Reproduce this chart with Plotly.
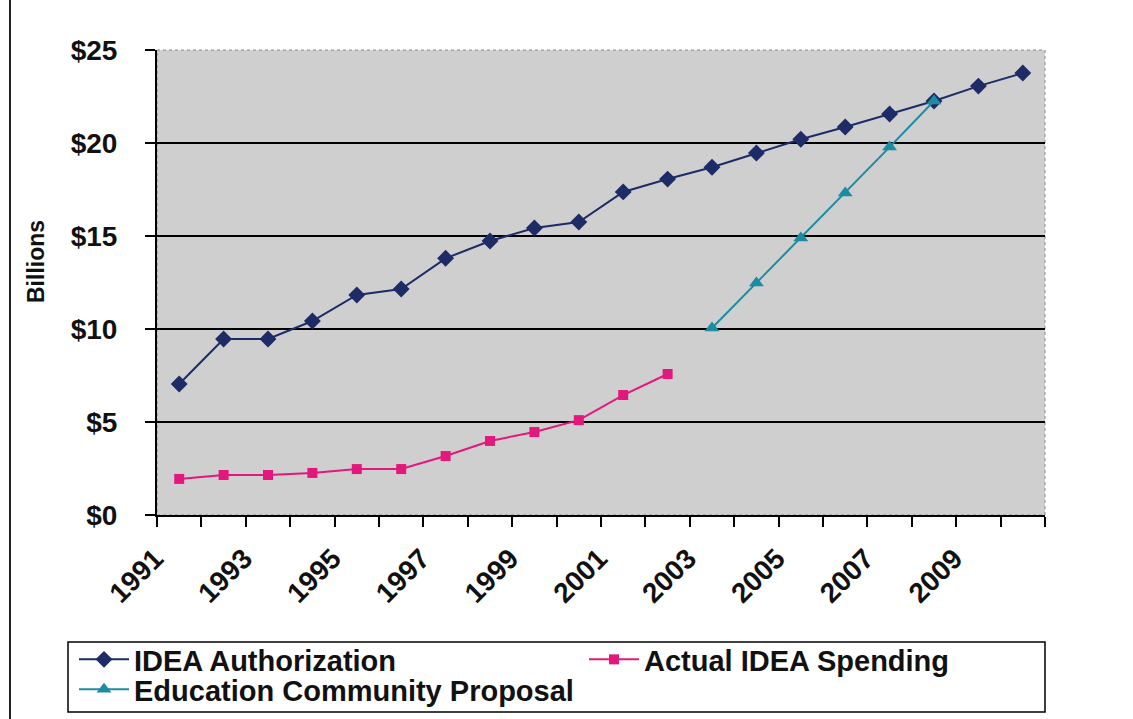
import plotly.graph_objects as go

years = [str(y) for y in range(1991, 2011)]
tick_text = [y if int(y) % 2 == 1 else "" for y in years]
y_ticks = [0, 5, 10, 15, 20, 25]
y_tick_text = ["$0", "$5", "$10", "$15", "$20", "$25"]

idea_auth = [7.04, 9.46, 9.46, 10.43, 11.83, 12.15, 13.8, 14.73, 15.43, 15.75,
             17.37, 18.06, 18.7, 19.46, 20.2, 20.86, 21.56, 22.26, 23.06, 23.76]
spend_years = years[:12]
actual_spend = [1.94, 2.15, 2.15, 2.26, 2.47, 2.47, 3.17, 3.98, 4.46, 5.1, 6.45, 7.58]
prop_years = years[12:18]
proposal = [10.05, 12.47, 14.89, 17.31, 19.78, 22.26]

NAVY = "#1d2b66"
PINK = "#e3187c"
TEAL = "#1c8ca2"
FONT = "Liberation Sans, Arial, sans-serif"

fig = go.Figure()
fig.add_trace(go.Scatter(x=years, y=idea_auth, name="IDEA Authorization", mode="lines+markers",
                         line=dict(color=NAVY, width=2),
                         marker=dict(symbol="diamond", size=13, color=NAVY), legend="legend"))
fig.add_trace(go.Scatter(x=spend_years, y=actual_spend, name="Actual IDEA Spending", mode="lines+markers",
                         line=dict(color=PINK, width=2),
                         marker=dict(symbol="square", size=10, color=PINK), legend="legend2"))
fig.add_trace(go.Scatter(x=prop_years, y=proposal, name="Education Community Proposal", mode="lines+markers",
                         line=dict(color=TEAL, width=2),
                         marker=dict(symbol="triangle-up", size=13, color=TEAL), legend="legend3"))

leg_font = dict(family=FONT, size=29, color="#111111", weight="bold")
leg_common = dict(xanchor="left", yanchor="top", bgcolor="rgba(0,0,0,0)", borderwidth=0,
                  font=dict(**leg_font), itemwidth=50)

# plot area: x 157..1045, y 50..515 (px)
def px_x(px):
    return (px - 157) / 888

def px_y(py):
    return (515 - py) / 465

fig.update_layout(
    width=1133, height=719,
    margin=dict(l=157, r=88, t=50, b=204, autoexpand=False),
    paper_bgcolor="white",
    plot_bgcolor="#cfcfd0",
    font=dict(family=FONT, color="black"),
    showlegend=True,
    legend=dict(x=px_x(74), y=px_y(634), **leg_common),
    legend2=dict(x=px_x(584), y=px_y(634), **leg_common),
    legend3=dict(x=px_x(74), y=px_y(664), **leg_common),
    xaxis=dict(
        type="category", categoryorder="array", categoryarray=years,
        tickvals=years, ticktext=tick_text, tickangle=-45,
        tickson="boundaries", ticks="outside", ticklen=10, tickwidth=2, tickcolor="black",
        showline=True, linecolor="black", linewidth=2, showgrid=False,
        tickfont=dict(family=FONT, size=28, color="#111111", weight="bold"),
        ticklabelstandoff=14, ticklabelshift=-24,
        range=[-0.5, 19.5], automargin=False,
    ),
    yaxis=dict(
        range=[0, 25], tickvals=y_ticks, ticktext=y_tick_text,
        ticks="outside", ticklen=10, tickwidth=2, tickcolor="black",
        showline=True, linecolor="black", linewidth=2, showgrid=False, zeroline=False,
        tickfont=dict(family=FONT, size=28, color="#111111", weight="bold"),
        ticklabelstandoff=22,
        minor=dict(tickvals=[5, 10, 15, 20], showgrid=True, gridcolor="black", gridwidth=1.5, ticks=""),
        automargin=False,
    ),
    annotations=[
        dict(text="Billions", textangle=-90, xref="paper", yref="paper",
             x=px_x(36), y=px_y(262), xanchor="center", yanchor="middle", showarrow=False,
             font=dict(family=FONT, size=23, color="#111111", weight="bold")),
    ],
    shapes=[
        dict(type="rect", xref="x domain", yref="y domain", x0=0, x1=1, y0=0, y1=1,
             line=dict(color="#8a8a8a", width=1, dash="dot"), layer="below"),
        dict(type="line", xref="paper", yref="paper", x0=px_x(10), x1=px_x(10), y0=px_y(719), y1=px_y(0),
             line=dict(color="#222222", width=2)),
        dict(type="rect", xref="paper", yref="paper", x0=px_x(68), x1=px_x(1045),
             y0=px_y(712), y1=px_y(642), line=dict(color="black", width=1.5)),
    ],
)

fig.write_html("out.html")
